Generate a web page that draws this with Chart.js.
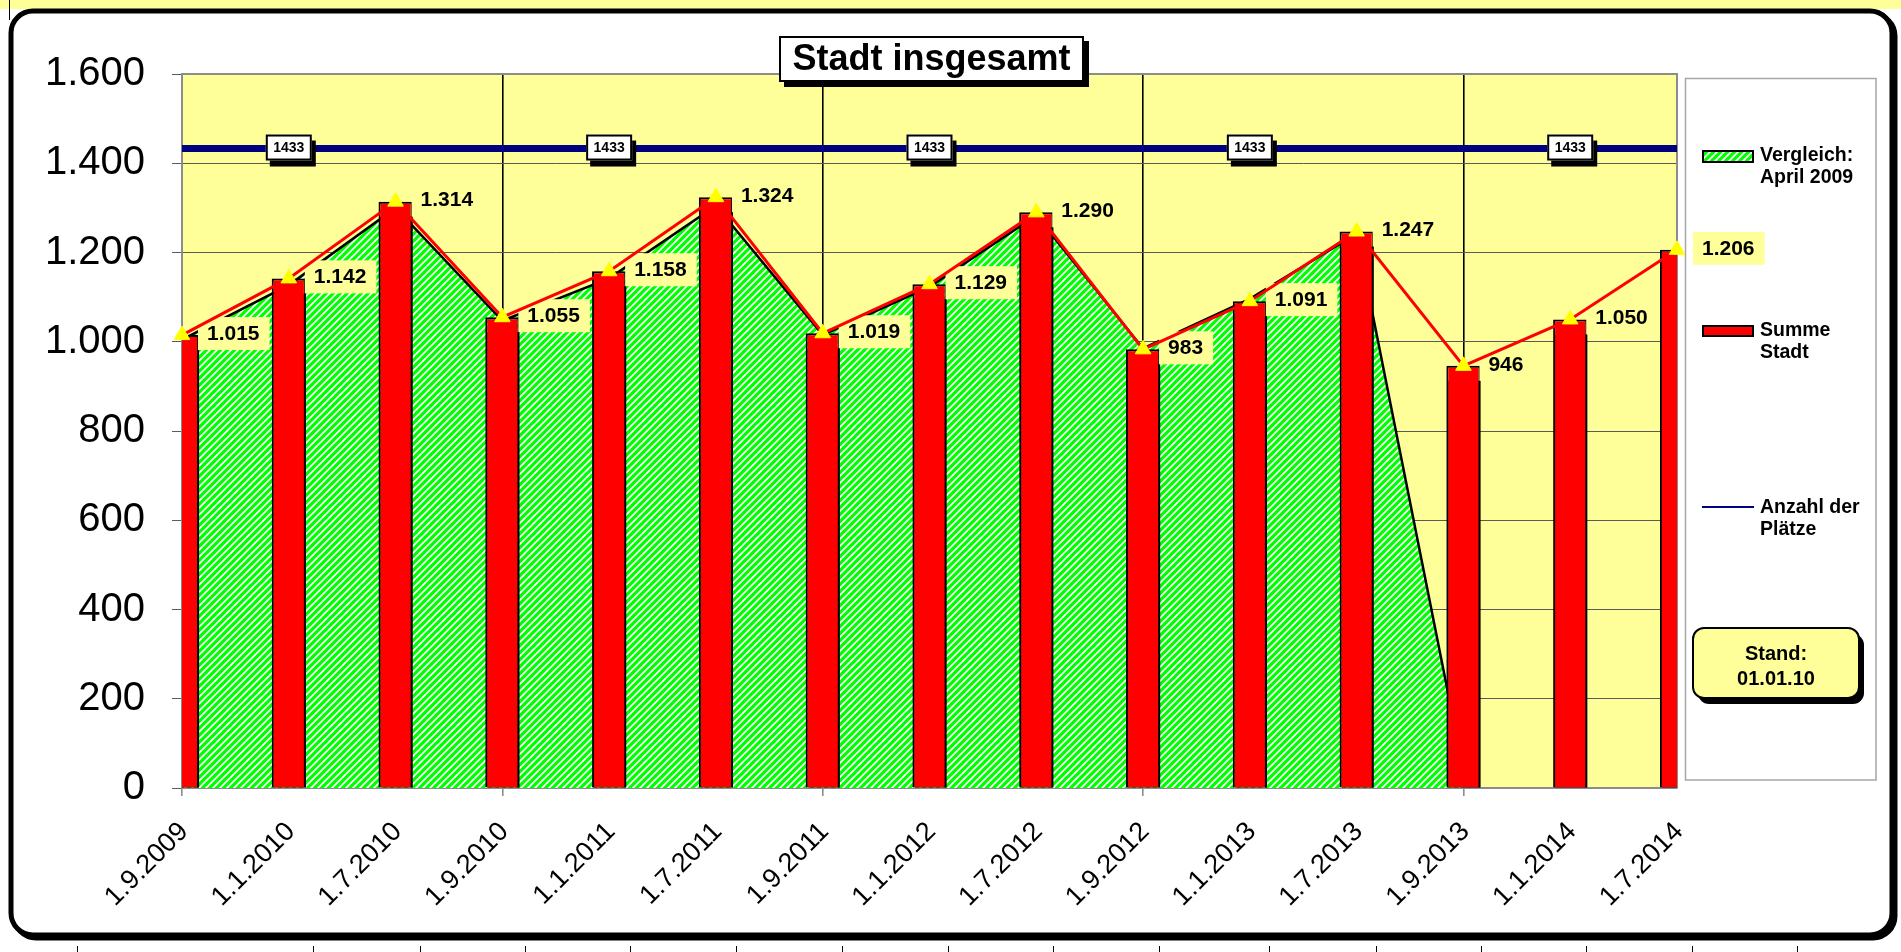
<!DOCTYPE html>
<html>
<head>
<meta charset="utf-8">
<script src="https://cdn.jsdelivr.net/npm/chart.js@4.4.1/dist/chart.umd.min.js"></script>
<style>
html,body{margin:0;padding:0;background:#fff;overflow:hidden}
canvas{display:block}
</style>
</head>
<body>
<canvas id="c" width="1901" height="952"></canvas>
<script>
// ---------- data ----------
const categories = ['1.9.2009','1.1.2010','1.7.2010','1.9.2010','1.1.2011','1.7.2011','1.9.2011','1.1.2012','1.7.2012','1.9.2012','1.1.2013','1.7.2013','1.9.2013','1.1.2014','1.7.2014'];
const summeStadt = [1015,1142,1314,1055,1158,1324,1019,1129,1290,983,1091,1247,946,1050,1206];
const vergleichApril2009 = [1005,1127,1300,1047,1142,1305,1015,1123,1283,985,1096,1242,40,null,null];
const anzahlPlaetze = [1433,1433,1433,1433,1433,1433,1433,1433,1433,1433,1433,1433,1433,1433,1433];
const platzLabelIndex = [1,4,7,10,13];
const yTickValues = [0,200,400,600,800,1000,1200,1400,1600];
const legendLabels = [['Vergleich:','April 2009'],['Summe','Stadt'],['Anzahl der','Plätze']];
const titleText = 'Stadt insgesamt';
const standText = ['Stand:','01.01.10'];

// ---------- helpers ----------
const FONT = '"Liberation Sans", Arial, Helvetica, sans-serif';
function fmt(v){ return String(Math.round(v)).replace(/\B(?=(\d{3})+(?!\d))/g,'.'); }
function rr(c,x,y,w,h,r){
  c.beginPath();
  c.moveTo(x+r,y); c.lineTo(x+w-r,y); c.arcTo(x+w,y,x+w,y+r,r);
  c.lineTo(x+w,y+h-r); c.arcTo(x+w,y+h,x+w-r,y+h,r);
  c.lineTo(x+r,y+h); c.arcTo(x,y+h,x,y+h-r,r);
  c.lineTo(x,y+r); c.arcTo(x,y,x+r,y,r); c.closePath();
}
const canvas = document.getElementById('c');
const mainCtx = canvas.getContext('2d');
function makeHatch(){
  const t = document.createElement('canvas'); t.width = 7; t.height = 7;
  const g = t.getContext('2d');
  g.fillStyle = '#00FF00'; g.fillRect(0,0,7,7);
  g.strokeStyle = '#FFFFFF'; g.lineWidth = 1.7;
  g.beginPath();
  g.moveTo(-1,8); g.lineTo(8,-1);
  g.moveTo(-1,1); g.lineTo(1,-1);
  g.moveTo(6,8); g.lineTo(8,6);
  g.stroke();
  return mainCtx.createPattern(t,'repeat');
}
const hatch = makeHatch();

// ---------- plugins ----------
const decor = {
  id: 'decor',
  beforeDraw(chart){
    const c = chart.ctx, a = chart.chartArea;
    c.save();
    c.fillStyle = '#fff'; c.fillRect(0,0,1901,952);
    c.fillStyle = '#FFFF99'; c.fillRect(0,0,1901,9);
    c.strokeStyle = '#000'; c.lineWidth = 1;
    c.beginPath(); c.moveTo(9.5,0); c.lineTo(9.5,20); c.stroke();
    [77,313,420,525,630,736,842,948,1053,1159,1269,1376,1481,1586,1692,1797].forEach(x=>{
      c.beginPath(); c.moveTo(x+0.5,946); c.lineTo(x+0.5,952); c.stroke();
    });
    // frame with shadow
    c.lineWidth = 5; c.strokeStyle = '#000';
    rr(c,14,14,1881,924,22); c.stroke();
    rr(c,11,11,1881,924,22); c.fillStyle = '#fff'; c.fill(); c.stroke();
    // plot background
    c.fillStyle = '#FFFF99';
    c.fillRect(a.left, a.top, a.right-a.left, a.bottom-a.top);
    // legend box
    c.fillStyle = '#fff'; c.fillRect(1685, 78, 191, 702);
    c.strokeStyle = '#A6A6A6'; c.lineWidth = 1.5; c.strokeRect(1685.5, 78.5, 190.5, 701.5);
    // legend entries
    c.font = 'bold 19.5px ' + FONT; c.textBaseline = 'middle'; c.textAlign = 'left';
    c.fillStyle = hatch; c.fillRect(1703,151,50,11);
    c.strokeStyle = '#000'; c.lineWidth = 2; c.strokeRect(1703,151,50,11);
    c.fillStyle = '#000';
    c.fillText(legendLabels[0][0], 1760, 156); c.fillText(legendLabels[0][1], 1760, 178);
    c.fillStyle = '#FF0000'; c.fillRect(1703,326,50,10);
    c.strokeStyle = '#000'; c.lineWidth = 2; c.strokeRect(1703,326,50,10);
    c.fillStyle = '#000';
    c.fillText(legendLabels[1][0], 1760, 331); c.fillText(legendLabels[1][1], 1760, 353);
    c.strokeStyle = '#000080'; c.lineWidth = 2;
    c.beginPath(); c.moveTo(1702,507); c.lineTo(1754,507); c.stroke();
    c.fillText(legendLabels[2][0], 1760, 508); c.fillText(legendLabels[2][1], 1760, 530);
    // Stand box
    c.fillStyle = '#000'; rr(c,1698,634,166,70,11); c.fill();
    rr(c,1693,628,166,70,11); c.fillStyle = '#FFFF99'; c.fill();
    c.strokeStyle = '#000'; c.lineWidth = 2; c.stroke();
    c.fillStyle = '#000'; c.textAlign = 'center'; c.font = 'bold 20px ' + FONT;
    c.fillText(standText[0], 1776, 654); c.fillText(standText[1], 1776, 679);
    c.restore();
  },
  beforeDatasetsDraw(chart){
    const c = chart.ctx, a = chart.chartArea;
    c.save();
    c.strokeStyle = '#8C8C8C'; c.lineWidth = 2;
    c.beginPath(); c.moveTo(a.left, a.top); c.lineTo(a.right, a.top); c.lineTo(a.right, a.bottom); c.stroke();
    c.restore();
  },
  beforeDatasetDraw(chart, args){
    const c = chart.ctx;
    const ds = chart.data.datasets[args.index];
    if (ds.id === 'bars') {
      c.save();
      c.shadowColor = '#000'; c.shadowOffsetX = 2; c.shadowOffsetY = 15; c.shadowBlur = 0;
    }
    if (ds.id === 'summeLine') {
      const meta = args.meta;
      c.save();
      c.font = 'bold 21px ' + FONT; c.textBaseline = 'middle'; c.textAlign = 'left';
      meta.data.forEach((p,i)=>{
        const t = fmt(summeStadt[i]);
        const w = c.measureText(t).width;
        c.fillStyle = '#FFFF99';
        c.fillRect(p.x+16, p.y-18, w+19, 33);
        c.fillStyle = '#000';
        c.fillText(t, p.x+25, p.y-1);
      });
      c.restore();
    }
  },
  afterDatasetDraw(chart, args){
    const ds = chart.data.datasets[args.index];
    if (ds.id === 'bars') chart.ctx.restore();
  },
  afterDatasetsDraw(chart){
    const c = chart.ctx;
    const meta = chart.getDatasetMeta(chart.data.datasets.findIndex(d=>d.id==='platz'));
    c.save();
    c.font = 'bold 14px ' + FONT; c.textAlign = 'center'; c.textBaseline = 'middle';
    platzLabelIndex.forEach(i=>{
      const p = meta.data[i];
      const x = p.x - 23, y = p.y - 14;
      c.fillStyle = '#000'; c.fillRect(x+4, y+6, 46, 26);
      c.fillStyle = '#fff'; c.fillRect(x, y, 46, 26);
      c.strokeStyle = '#000'; c.lineWidth = 2; c.strokeRect(x+1, y+1, 44, 24);
      c.fillStyle = '#000'; c.fillText(String(anzahlPlaetze[i]), p.x, p.y-0.5);
    });
    c.restore();
  },
  afterDraw(chart){
    const c = chart.ctx, a = chart.chartArea;
    c.save();
    const cx = (a.left + a.right)/2 + 2;
    const w = 305, h = 46, x = cx - w/2, y = 36;
    c.fillStyle = '#000'; c.fillRect(x+5, y+5, w, h);
    c.fillStyle = '#fff'; c.fillRect(x, y, w, h);
    c.strokeStyle = '#000'; c.lineWidth = 2; c.strokeRect(x+1, y+1, w-2, h-2);
    c.fillStyle = '#000'; c.font = 'bold 36px ' + FONT; c.textAlign = 'center'; c.textBaseline = 'middle';
    c.fillText(titleText, cx, y + h/2 + 1);
    c.restore();
  }
};

// ---------- chart ----------
new Chart(canvas, {
  data: {
    labels: categories,
    datasets: [
      { id:'vergleich', type:'line', label:'Vergleich: April 2009', data: vergleichApril2009,
        order: 4, fill: 'origin', backgroundColor: hatch, borderColor: '#000', borderWidth: 2.5,
        pointRadius: 0, tension: 0, spanGaps: false },
      { id:'bars', type:'bar', label:'Summe Stadt', data: summeStadt, order: 3,
        backgroundColor: '#FF0000', borderColor: '#000', borderWidth: 2,
        barPercentage: 0.32, categoryPercentage: 1, clip: 0 },
      { id:'platz', type:'line', label:'Anzahl der Plätze', data: anzahlPlaetze, order: 2,
        borderColor: '#000080', borderWidth: 7, pointRadius: 0, fill: false, tension: 0 },
      { id:'summeLine', type:'line', label:'Summe', data: summeStadt, order: 1,
        borderColor: '#FF0000', borderWidth: 3, fill: false, tension: 0, clip: false,
        pointStyle: 'triangle', pointRadius: 9, pointBackgroundColor: '#FFFF00',
        pointBorderColor: '#FFFF00', pointBorderWidth: 1 }
    ]
  },
  options: {
    responsive: false, animation: false, devicePixelRatio: 1, events: [],
    layout: { padding: { top: 74, right: 224, left: 0, bottom: 0 } },
    plugins: { legend: { display: false }, title: { display: false }, tooltip: { enabled: false } },
    scales: {
      x: {
        type: 'category', offset: false,
        grid: {
          offset: false,
          color: ctx => (ctx.index % 3 === 0 && ctx.index !== 0) ? '#000' : 'rgba(0,0,0,0)',
          tickColor: ctx => (ctx.index % 3 === 0) ? '#8C8C8C' : 'rgba(0,0,0,0)',
          lineWidth: 1.6, tickLength: 8
        },
        border: { color: '#8C8C8C', width: 2 },
        ticks: { autoSkip: false, minRotation: 45, maxRotation: 45, padding: 20, labelOffset: 2, color: '#000',
                 font: { family: FONT, size: 27 } },
        afterFit: s => { s.height = 164; }
      },
      y: {
        min: 0, max: 1600,
        afterBuildTicks: s => { s.ticks = yTickValues.map(v => ({ value: v })); },
        ticks: { padding: 27, color: '#000', font: { family: FONT, size: 40 }, callback: v => fmt(v) },
        grid: { color: '#5A5A5A', lineWidth: 1, tickLength: 10, tickColor: '#5A5A5A' },
        border: { color: '#8C8C8C', width: 2 },
        afterFit: s => { s.width = 182; }
      }
    }
  },
  plugins: [decor]
});
</script>
</body>
</html>
